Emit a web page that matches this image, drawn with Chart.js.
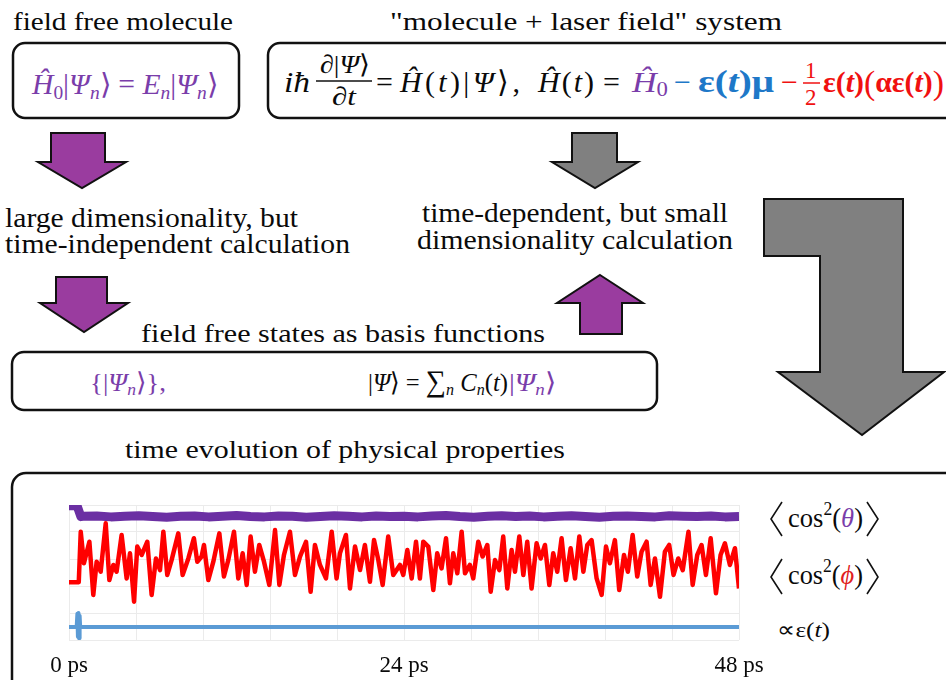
<!DOCTYPE html>
<html>
<head>
<meta charset="utf-8">
<script src="https://cdn.jsdelivr.net/npm/chart.js@4.4.1/dist/chart.umd.min.js"></script>
<style>
  html, body { margin: 0; padding: 0; background: #fff; }
  #page { position: relative; width: 946px; height: 680px; overflow: hidden; background: #fff; }
  #art { position: absolute; left: 0; top: 0; }
  #plot { position: absolute; left: 20px; top: 490px; }
  svg text { font-family: "Liberation Serif", serif; fill: #0a0a0a; }
</style>
</head>
<body>
<div id="page">
<svg id="art" width="946" height="680" viewBox="0 0 946 680" font-family="Liberation Serif, serif">
  <!-- boxes -->
  <g fill="none" stroke="#111" stroke-width="2.5">
    <rect x="13" y="43" width="226" height="75" rx="12"/>
    <rect x="268" y="43" width="720" height="75" rx="12"/>
    <rect x="12" y="352" width="645" height="58" rx="12"/>
    <rect x="12" y="473" width="980" height="240" rx="14"/>
  </g>

  <!-- arrows -->
  <g stroke="#111" stroke-width="2" stroke-linejoin="miter">
    <polygon fill="#9A3C9F" points="51,133 105,133 105,162 126,162 82,188 38,162 51,162"/>
    <polygon fill="#9A3C9F" points="56,277 107,277 107,303 128,303 84,332 40,303 56,303"/>
    <polygon fill="#808080" points="572,133 617,133 617,162 638,162 595,188 552,162 572,162"/>
    <polygon fill="#9A3C9F" points="600,275 643,303 622,303 622,334 580,334 580,303 557,303"/>
    <polygon fill="#808080" points="764,199 903,199 903,372 944,372 862,435 778,372 820,372 820,256 764,256"/>
  </g>

  <!-- headings and captions -->
  <text x="13" y="30" font-size="26" textLength="220" lengthAdjust="spacingAndGlyphs">field free molecule</text>
  <text x="390" y="30" font-size="26" textLength="392" lengthAdjust="spacingAndGlyphs">"molecule + laser field" system</text>
  <text x="5" y="227" font-size="27" textLength="293" lengthAdjust="spacingAndGlyphs">large dimensionality, but</text>
  <text x="5" y="253" font-size="27" textLength="345" lengthAdjust="spacingAndGlyphs">time-independent calculation</text>
  <text x="422" y="222" font-size="27" textLength="306" lengthAdjust="spacingAndGlyphs">time-dependent, but small</text>
  <text x="417" y="249" font-size="27" textLength="316" lengthAdjust="spacingAndGlyphs">dimensionality calculation</text>
  <text x="141" y="342" font-size="26" textLength="404" lengthAdjust="spacingAndGlyphs">field free states as basis functions</text>
  <text x="125" y="458" font-size="26" textLength="440" lengthAdjust="spacingAndGlyphs">time evolution of physical properties</text>

  <!-- box 1 -->
  <text x="32" y="94" font-size="29" textLength="186" lengthAdjust="spacingAndGlyphs" style="fill:#7A3DAA" font-style="italic">Ĥ<tspan font-style="normal" font-size="19" dy="5" style="fill:#7A3DAA">0</tspan><tspan font-style="normal" dy="-5" style="fill:#7A3DAA">|</tspan>Ψ<tspan font-size="19" dy="5" style="fill:#7A3DAA">n</tspan><tspan font-style="normal" dy="-5" style="fill:#7A3DAA">⟩ = </tspan>E<tspan font-size="19" dy="5" style="fill:#7A3DAA">n</tspan><tspan font-style="normal" dy="-5" style="fill:#7A3DAA">|</tspan>Ψ<tspan font-size="19" dy="5" style="fill:#7A3DAA">n</tspan><tspan font-style="normal" dy="-5" style="fill:#7A3DAA">⟩</tspan></text>

  <!-- box 2 -->
  <text x="284" y="92" font-size="30" font-style="italic" textLength="26" lengthAdjust="spacingAndGlyphs">iħ</text>
  <text x="320" y="73" font-size="26" textLength="50" lengthAdjust="spacingAndGlyphs"><tspan font-style="italic">∂</tspan>|<tspan font-style="italic">Ψ</tspan>⟩</text>
  <line x1="316" y1="81" x2="372" y2="81" stroke="#111" stroke-width="1.5"/>
  <text x="332" y="105" font-size="26" font-style="italic" textLength="24" lengthAdjust="spacingAndGlyphs">∂t</text>
  <text x="376" y="92" font-size="30">=</text>
  <text x="400" y="92" font-size="30" textLength="120" lengthAdjust="spacing"><tspan font-style="italic">Ĥ</tspan>(<tspan font-style="italic">t</tspan>)|<tspan font-style="italic">Ψ</tspan>⟩,</text>
  <text x="538" y="92" font-size="30" textLength="56" lengthAdjust="spacing"><tspan font-style="italic">Ĥ</tspan>(<tspan font-style="italic">t</tspan>)</text>
  <text x="603" y="92" font-size="30">=</text>
  <text x="632" y="92" font-size="30" font-style="italic" textLength="36" lengthAdjust="spacingAndGlyphs" style="fill:#7A3DAA">Ĥ<tspan font-style="normal" font-size="20" dy="4" style="fill:#7A3DAA">0</tspan></text>
  <text x="674" y="92" font-size="30" style="fill:#1E78C8">−</text>
  <text x="698" y="92" font-size="31" font-weight="bold" textLength="76" lengthAdjust="spacingAndGlyphs" style="fill:#1E78C8">ε(<tspan font-style="italic" style="fill:#1E78C8">t</tspan>)μ</text>
  <text x="781" y="92" font-size="30" style="fill:#F01010">−</text>
  <text x="805" y="78" font-size="23" style="fill:#F01010">1</text>
  <line x1="803" y1="83" x2="820" y2="83" stroke="#F01010" stroke-width="1.5"/>
  <text x="805" y="105" font-size="23" style="fill:#F01010">2</text>
  <text x="823" y="92" font-size="30" font-weight="bold" textLength="121" lengthAdjust="spacingAndGlyphs" style="fill:#F01010">ε(<tspan font-style="italic" style="fill:#F01010">t</tspan>)<tspan font-size="34" dy="2" font-weight="normal" style="fill:#F01010">(</tspan><tspan dy="-2" style="fill:#F01010">αε(</tspan><tspan font-style="italic" style="fill:#F01010">t</tspan>)<tspan font-size="34" dy="2" font-weight="normal" style="fill:#F01010">)</tspan></text>

  <!-- box 3 -->
  <text x="90" y="391" font-size="26" textLength="76" lengthAdjust="spacingAndGlyphs" style="fill:#7A3DAA">{|<tspan font-style="italic" style="fill:#7A3DAA">Ψ</tspan><tspan font-style="italic" font-size="17" dy="4" style="fill:#7A3DAA">n</tspan><tspan dy="-4" style="fill:#7A3DAA">⟩},</tspan></text>
  <text x="368" y="391" font-size="26" textLength="140" lengthAdjust="spacingAndGlyphs">|<tspan font-style="italic">Ψ</tspan>⟩ = <tspan font-size="30">∑</tspan><tspan font-style="italic" font-size="17" dy="4">n</tspan><tspan font-style="italic" dy="-4"> C</tspan><tspan font-style="italic" font-size="17" dy="4">n</tspan><tspan dy="-4">(</tspan><tspan font-style="italic">t</tspan>)</text>
  <text x="509" y="391" font-size="26" textLength="47" lengthAdjust="spacingAndGlyphs" style="fill:#7A3DAA">|<tspan font-style="italic" style="fill:#7A3DAA">Ψ</tspan><tspan font-style="italic" font-size="17" dy="4" style="fill:#7A3DAA">n</tspan><tspan dy="-4" style="fill:#7A3DAA">⟩</tspan></text>

  <!-- legend beside the plot -->
  <g fill="none" stroke="#111" stroke-width="1.6">
    <polyline points="782,502 771,519 782,536"/>
    <polyline points="867,502 878,519 867,536"/>
    <polyline points="782,559 771,577 782,594"/>
    <polyline points="867,559 878,577 867,594"/>
  </g>
  <text x="788" y="527" font-size="27" textLength="75" lengthAdjust="spacingAndGlyphs">cos<tspan font-size="18" dy="-12">2</tspan><tspan dy="12">(</tspan><tspan font-style="italic" style="fill:#7A3DAA">θ</tspan>)</text>
  <text x="788" y="584" font-size="27" textLength="75" lengthAdjust="spacingAndGlyphs">cos<tspan font-size="18" dy="-12">2</tspan><tspan dy="12">(</tspan><tspan font-style="italic" style="fill:#E02020">ϕ</tspan>)</text>
  <text x="777" y="637" font-size="22" textLength="53" lengthAdjust="spacingAndGlyphs">∝ε(<tspan font-style="italic">t</tspan>)</text>
</svg>
<canvas id="plot" width="760" height="190"></canvas>
</div>

<script>
// grid lines every 4.8 ps, labels only at three of them
const timeGrid = [0, 4.8, 9.6, 14.4, 19.2, 24, 28.8, 33.6, 38.4, 43.2, 48];
const tickTimes = [0, 24, 48];
const tickLabels = ['0 ps', '24 ps', '48 ps'];

// <cos^2(theta)>  [time ps, value]
const thetaPoints = [
  [0, 4.97], [0.58, 4.97], [0.85, 4.57], [1, 4.58], [2, 4.59], [3, 4.56], [4, 4.58], [5, 4.60],
  [6, 4.57], [7, 4.55], [8, 4.58], [9, 4.59], [10, 4.56], [11, 4.58], [12, 4.61], [13, 4.57],
  [14, 4.56], [15, 4.59], [16, 4.58], [17, 4.55], [18, 4.57], [19, 4.60], [20, 4.58], [21, 4.56],
  [22, 4.59], [23, 4.57], [24, 4.58], [25, 4.56], [26, 4.59], [27, 4.61], [28, 4.57], [29, 4.55],
  [30, 4.58], [31, 4.60], [32, 4.57], [33, 4.59], [34, 4.56], [35, 4.58], [36, 4.60], [37, 4.57],
  [38, 4.55], [39, 4.58], [40, 4.59], [41, 4.57], [42, 4.56], [43, 4.60], [44, 4.58], [45, 4.57],
  [46, 4.59], [47, 4.56], [48, 4.57]
];

// <cos^2(phi)>
const phiPoints = [
  [0, 2.14], [0.70, 2.14], [0.84, 4.01], [1.07, 2.84], [1.46, 3.64], [1.74, 1.67], [1.98, 2.90], [2.27, 2.53],
  [2.63, 4.32], [2.89, 2.22], [3.18, 2.78], [3.41, 2.53], [3.77, 3.89], [4.13, 2.28], [4.37, 3.21], [4.66, 1.42],
  [4.89, 3.46], [5.21, 3.15], [5.61, 3.64], [5.92, 1.67], [6.23, 3.02], [6.52, 2.59], [6.76, 4.01], [7.04, 2.41],
  [7.35, 2.96], [7.83, 3.95], [8.14, 2.41], [8.55, 3.02], [8.95, 3.77], [9.19, 2.90], [9.50, 3.09], [9.67, 3.52],
  [9.98, 2.22], [10.34, 2.90], [10.77, 3.95], [11.10, 2.35], [11.41, 2.96], [11.82, 4.01], [12.13, 2.28], [12.44, 3.21],
  [12.73, 2.04], [13.01, 3.83], [13.32, 2.53], [13.63, 3.52], [13.97, 2.90], [14.35, 2.04], [14.76, 4.07], [15.07, 2.04],
  [15.40, 3.15], [15.83, 4.01], [16.19, 2.41], [16.55, 3.09], [16.98, 3.64], [17.31, 1.79], [17.62, 3.52], [17.98, 2.78],
  [18.41, 2.28], [18.82, 4.01], [19.17, 2.28], [19.41, 3.21], [19.84, 3.89], [20.13, 1.91], [20.49, 3.46], [20.85, 2.59],
  [21.20, 3.52], [21.56, 2.16], [21.85, 3.70], [22.16, 2.96], [22.47, 2.04], [22.87, 3.83], [23.23, 2.41], [23.71, 2.78],
  [23.95, 2.41], [24.24, 3.33], [24.55, 2.28], [24.86, 3.64], [25.14, 2.28], [25.38, 3.64], [25.74, 3.46], [26.10, 1.85],
  [26.38, 3.21], [26.69, 2.65], [27.01, 3.77], [27.29, 2.10], [27.53, 3.21], [27.82, 2.47], [28.13, 4.01], [28.37, 2.47],
  [28.72, 2.78], [28.96, 2.28], [29.32, 3.64], [29.63, 3.09], [29.97, 3.52], [30.21, 1.79], [30.52, 2.96], [30.83, 2.59],
  [31.11, 3.83], [31.40, 1.91], [31.71, 3.33], [31.95, 2.53], [32.26, 3.83], [32.55, 2.41], [32.83, 3.64], [33.14, 1.91],
  [33.50, 3.58], [33.79, 3.02], [34.10, 3.52], [34.41, 2.04], [34.69, 3.21], [34.98, 2.53], [35.29, 3.77], [35.60, 2.22],
  [35.94, 3.40], [36.25, 2.28], [36.56, 3.83], [36.85, 2.53], [37.13, 3.52], [37.44, 3.70], [37.80, 2.28], [38.16, 1.67],
  [38.47, 3.46], [38.75, 2.84], [39.11, 3.70], [39.42, 1.85], [39.76, 3.15], [40.04, 2.53], [40.38, 3.89], [40.71, 2.35],
  [41.02, 3.27], [41.38, 3.64], [41.67, 2.04], [41.98, 3.02], [42.34, 1.60], [42.69, 3.27], [43.00, 3.52], [43.31, 2.41],
  [43.65, 3.02], [43.97, 2.59], [44.38, 4.01], [44.68, 2.04], [45.01, 3.15], [45.32, 3.52], [45.63, 2.41], [45.97, 3.77],
  [46.35, 1.73], [46.68, 3.15], [46.99, 3.58], [47.35, 2.78], [47.71, 3.40], [48.00, 1.91]
];

// laser field, short pulse near t = 0.65 ps
const fieldPoints = [
  [0, 0.48], [0.55, 0.48], [0.60, 0.97], [0.64, 0.12], [0.68, 1.0], [0.72, 0.07], [0.76, 0.9], [0.80, 0.48], [48, 0.48]
];

const toXY = pts => pts.map(p => ({ x: p[0], y: p[1] }));
const gridColor = '#ebebeb';

new Chart(document.getElementById('plot'), {
  type: 'line',
  data: {
    datasets: [
      { data: toXY(thetaPoints), borderColor: '#6B2FA3', borderWidth: 9 },
      { data: toXY(phiPoints), borderColor: '#FF0000', borderWidth: 4.5 },
      { data: toXY(fieldPoints), borderColor: '#5B9BD5', borderWidth: 4 }
    ]
  },
  options: {
    responsive: false,
    animation: false,
    layout: { padding: { left: 49, right: 41, top: 15, bottom: 0 } },
    plugins: { legend: { display: false }, tooltip: { enabled: false } },
    elements: {
      point: { radius: 0 },
      line: { tension: 0, borderJoinStyle: 'round', fill: false }
    },
    scales: {
      x: {
        type: 'linear', min: 0, max: 48,
        afterBuildTicks: s => { s.ticks = timeGrid.map(v => ({ value: v })); },
        afterFit: s => { s.height = 40; },
        grid: { color: gridColor, drawTicks: false },
        border: { display: false },
        ticks: {
          autoSkip: false, maxRotation: 0, padding: 12, color: '#0a0a0a',
          font: { family: 'Liberation Serif', size: 23 },
          callback: v => {
            const i = tickTimes.indexOf(v);
            return i >= 0 ? tickLabels[i] : '';
          }
        }
      },
      y: {
        min: 0, max: 5,
        afterFit: s => { s.width = 0; },
        ticks: { display: false, stepSize: 1 },
        grid: { color: gridColor, drawTicks: false },
        border: { display: false }
      }
    }
  }
});
</script>
</body>
</html>
